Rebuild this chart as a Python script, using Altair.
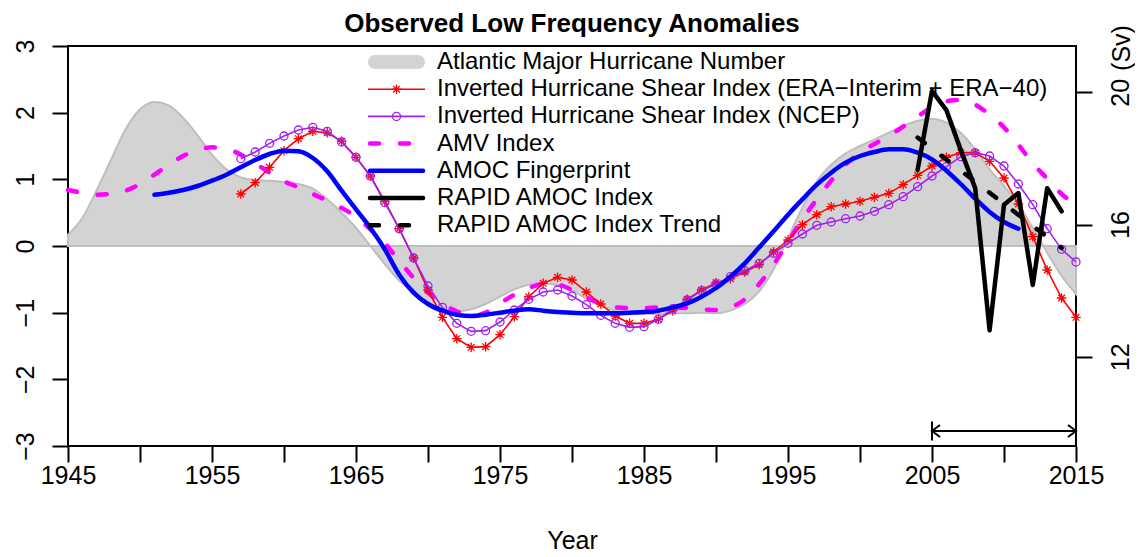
import altair as alt
import pandas as pd

# ---------------- data ----------------
hurr_years = list(range(1945, 2016))
hurr_vals = [0.17, 0.42, 0.84, 1.30, 1.75, 2.05, 2.16, 2.11, 1.92, 1.66, 1.37, 1.15, 1.03, 0.99, 0.98, 0.96, 0.93,
             0.86, 0.70, 0.50, 0.27, 0.00, -0.27, -0.52, -0.68, -0.85, -0.95, -0.98, -0.95, -0.87, -0.76, -0.65,
             -0.58, -0.56, -0.59, -0.67, -0.79, -0.90, -0.97, -1.01, -1.02, -1.02, -1.01, -1.01, -1.00, -1.01,
             -0.97, -0.87, -0.68, -0.35, 0.12, 0.58, 0.97, 1.22, 1.39, 1.50, 1.60, 1.70, 1.80, 1.88, 1.91, 1.85,
             1.70, 1.45, 1.15, 0.90, 0.62, 0.27, -0.10, -0.45, -0.72]

amv_years = list(range(1945, 2016))
amv_vals = [0.84, 0.80, 0.77, 0.78, 0.83, 0.93, 1.07, 1.22, 1.35, 1.44, 1.48, 1.46, 1.37, 1.24, 1.10, 0.97, 0.88,
            0.78, 0.68, 0.57, 0.44, 0.25, 0.04, -0.22, -0.48, -0.70, -0.87, -0.98, -1.05, -1.00, -0.86, -0.73,
            -0.63, -0.57, -0.58, -0.66, -0.77, -0.86, -0.92, -0.93, -0.93, -0.92, -0.92, -0.93, -0.95, -0.96,
            -0.92, -0.80, -0.57, -0.28, 0.06, 0.40, 0.70, 0.98, 1.22, 1.40, 1.53, 1.65, 1.79, 1.94, 2.08, 2.17,
            2.19, 2.12, 1.97, 1.78, 1.52, 1.24, 1.01, 0.78, 0.62]

era_years = list(range(1957, 2016))
era_vals = [0.78, 0.95, 1.18, 1.43, 1.61, 1.72, 1.70, 1.57, 1.33, 1.05, 0.67, 0.26, -0.18, -0.66, -1.07, -1.39,
            -1.52, -1.51, -1.33, -1.06, -0.76, -0.56, -0.47, -0.51, -0.69, -0.87, -1.05, -1.16, -1.16, -1.10,
            -0.97, -0.80, -0.66, -0.55, -0.49, -0.39, -0.28, -0.09, 0.09, 0.32, 0.47, 0.59, 0.63, 0.67, 0.73,
            0.79, 0.92, 1.06, 1.20, 1.33, 1.40, 1.40, 1.27, 1.02, 0.63, 0.14, -0.36, -0.78, -1.07]

ncep_years = list(range(1957, 2016))
ncep_vals = [1.31, 1.41, 1.54, 1.65, 1.74, 1.78, 1.72, 1.56, 1.33, 1.05, 0.65, 0.26, -0.18, -0.60, -0.92, -1.16,
             -1.28, -1.27, -1.14, -0.96, -0.80, -0.69, -0.66, -0.75, -0.88, -1.04, -1.16, -1.22, -1.21, -1.10,
             -0.94, -0.81, -0.67, -0.57, -0.46, -0.37, -0.26, -0.11, 0.04, 0.18, 0.31, 0.36, 0.41, 0.45, 0.52,
             0.62, 0.74, 0.89, 1.05, 1.19, 1.34, 1.40, 1.35, 1.20, 0.93, 0.62, 0.26, -0.05, -0.24]

amoc_years = list(range(1951, 2012))
amoc_vals = [0.77, 0.80, 0.84, 0.90, 0.98, 1.07, 1.18, 1.29, 1.38, 1.43, 1.42, 1.32, 1.12, 0.83, 0.55, 0.27,
             -0.05, -0.43, -0.70, -0.87, -0.97, -1.03, -1.05, -1.03, -1.00, -0.97, -0.95, -0.97, -0.99, -1.00,
             -1.01, -1.01, -1.01, -1.00, -0.99, -0.97, -0.92, -0.86, -0.76, -0.63, -0.46, -0.26, -0.02, 0.22,
             0.47, 0.70, 0.92, 1.10, 1.25, 1.35, 1.41, 1.45, 1.45, 1.40, 1.30, 1.13, 0.93, 0.71, 0.51, 0.36, 0.26]

rapid_years = list(range(2004, 2015))
rapid_sv = [17.65, 20.04, 19.46, 18.25, 17.10, 12.80, 16.60, 16.95, 14.17, 17.10, 16.40]

trend_years = [2004, 2014]
trend_sv = [18.63, 15.29]

span_years = [2005, 2015]

legend_labels = [
    "Atlantic Major Hurricane Number",
    "Inverted Hurricane Shear Index (ERA\u2212Interim + ERA\u221240)",
    "Inverted Hurricane Shear Index (NCEP)",
    "AMV Index",
    "AMOC Fingerprint",
    "RAPID AMOC Index",
    "RAPID AMOC Index Trend",
]

title_text = "Observed Low Frequency Anomalies"
x_title = "Year"
sv_unit = "(Sv)"
x_ticks = list(range(1945, 2016, 5))
y_ticks = [-3, -2, -1, 0, 1, 2, 3]
sv_ticks = [12, 16, 20]

# ---------------- layout ----------------
W, H = 1008, 400
PAD_L, PAD_T = 60, 38
SVG_W, SVG_H = 1127, 549
X0, Y0 = PAD_L + 8, PAD_T + 8
FONT = "Liberation Sans"


def x_of(px):
    return 1945 + (px - X0) / (W / 70)


def v_of(py):
    return 3 - (py - Y0) / (H / 6)


xs = alt.Scale(domain=[1945, 2015], nice=False, zero=False)
ys = alt.Scale(domain=[-3, 3], nice=False, zero=False)
svs = alt.Scale(domain=[9.30, 21.40], nice=False, zero=False)

xaxis = alt.Axis(values=x_ticks, format="d", title=x_title,
                 labelExpr="(datum.value - 1945) % 10 == 0 ? datum.label : ''",
                 labelFlush=False, labelOverlap=False, labelPadding=1, titlePadding=40)
yaxis = alt.Axis(values=y_ticks, format="d", title=None, labelAngle=270, labelFlush=False,
                 labelOverlap=False, labelAlign="center", labelBaseline="bottom", labelPadding=14)
svaxis = alt.Axis(values=sv_ticks, format="d", title=None, orient="right", labelAngle=270,
                  labelFlush=False, labelOverlap=False,
                  labelAlign="center", labelBaseline="top", labelPadding=16)


def X(f):
    return alt.X(f, type="quantitative", scale=xs, axis=xaxis)


def Y(f):
    return alt.Y(f, type="quantitative", scale=ys, axis=yaxis)


def YS(f):
    return alt.Y(f, type="quantitative", scale=svs, axis=svaxis)


hurr = pd.DataFrame({"year": hurr_years, "value": hurr_vals, "base": 0.0})
amv = pd.DataFrame({"year": amv_years, "value": amv_vals})
era = pd.DataFrame({"year": era_years, "value": era_vals})
ncep = pd.DataFrame({"year": ncep_years, "value": ncep_vals})
amoc = pd.DataFrame({"year": amoc_years, "value": amoc_vals})
rapid = pd.DataFrame({"year": rapid_years, "value": rapid_sv})
trend = pd.DataFrame({"year": trend_years, "value": trend_sv})

STAR = "M-1,0L1,0M0,-1L0,1M-0.7,-0.7L0.7,0.7M-0.7,0.7L0.7,-0.7"
DASH = [9, 21]

area = alt.Chart(hurr).mark_area(fill="#d3d3d3", stroke="#bebebe", strokeWidth=2,
                                 interpolate="monotone").encode(x=X("year"), y=Y("value"), y2="base")
amv_line = alt.Chart(amv).mark_line(color="#ff00ff", strokeWidth=4.5, strokeDash=DASH, strokeCap="round",
                                    interpolate="monotone").encode(x=X("year"), y=Y("value"))
era_line = alt.Chart(era).mark_line(color="#ff0000", strokeWidth=1.6).encode(x=X("year"), y=Y("value"))
era_pts = alt.Chart(era).mark_point(shape=STAR, size=90, color="#ff0000", filled=False, strokeWidth=1.3,
                                    opacity=1).encode(x=X("year"), y=Y("value"))
ncep_line = alt.Chart(ncep).mark_line(color="#a020f0", strokeWidth=1.6).encode(x=X("year"), y=Y("value"))
ncep_pts = alt.Chart(ncep).mark_point(shape="circle", size=64, color="#a020f0", filled=False, strokeWidth=1.3,
                                      opacity=1).encode(x=X("year"), y=Y("value"))
amoc_line = alt.Chart(amoc).mark_line(color="#0000ff", strokeWidth=4.5, strokeCap="round",
                                      interpolate="monotone").encode(x=X("year"), y=Y("value"))

# arrow marking the RAPID period
arrow_y = v_of(431)
span = pd.DataFrame({"year": [span_years[0]], "year2": [span_years[1]], "value": [arrow_y]})
arrow_line = alt.Chart(span).mark_rule(color="black", strokeWidth=2).encode(
    x=X("year"), x2="year2", y=Y("value"))
bar = pd.DataFrame({"year": [span_years[0]], "value": [v_of(421.5)], "value2": [v_of(440.5)]})
arrow_bar = alt.Chart(bar).mark_rule(color="black", strokeWidth=2).encode(x=X("year"), y=Y("value"), y2="value2")
heads = pd.DataFrame({"year": span_years, "value": [arrow_y, arrow_y],
                      "shape": ["M1,-0.75L0,0L1,0.75", "M-1,-0.75L0,0L-1,0.75"]})
arrow_heads = alt.Chart(heads).mark_point(size=256, color="black", filled=False, strokeWidth=2,
                                          opacity=1).encode(
    x=X("year"), y=Y("value"), shape=alt.Shape("shape:N", scale=None))

# legend
ROW_Y = [62 + 27.2 * i for i in range(7)]
SYM_L, SYM_R, SYM_C, TXT_X = 368, 425, 396.5, 437


def hrule(px0, px1, row, **kw):
    df = pd.DataFrame({"year": [x_of(px0)], "year2": [x_of(px1)], "value": [v_of(ROW_Y[row])]})
    return alt.Chart(df).mark_rule(**kw).encode(x=X("year"), x2="year2", y=Y("value"))


def sym(row, **kw):
    df = pd.DataFrame({"year": [x_of(SYM_C)], "value": [v_of(ROW_Y[row])]})
    return alt.Chart(df).mark_point(opacity=1, filled=False, **kw).encode(x=X("year"), y=Y("value"))


leg_df = pd.DataFrame({"label": legend_labels, "year": x_of(TXT_X), "value": [v_of(p) for p in ROW_Y]})
leg_text = alt.Chart(leg_df).mark_text(align="left", baseline="middle", font=FONT, fontSize=24,
                                       color="black").encode(x=X("year"), y=Y("value"), text="label:N")
legend = [
    hrule(SYM_L + 7, SYM_R - 7, 0, color="#d3d3d3", strokeWidth=14, strokeCap="round"),
    hrule(SYM_L, SYM_R, 1, color="#ff0000", strokeWidth=1.6),
    sym(1, shape=STAR, size=90, color="#ff0000", strokeWidth=1.3),
    hrule(SYM_L, SYM_R, 2, color="#a020f0", strokeWidth=1.6),
    sym(2, shape="circle", size=64, color="#a020f0", strokeWidth=1.3),
    hrule(SYM_L + 2, SYM_R, 3, color="#ff00ff", strokeWidth=4.5, strokeDash=DASH, strokeCap="round"),
    hrule(SYM_L + 2, SYM_R - 2, 4, color="#0000ff", strokeWidth=4.5, strokeCap="round"),
    hrule(SYM_L + 2, SYM_R - 2, 5, color="black", strokeWidth=4.5, strokeCap="round"),
    hrule(SYM_L + 2, SYM_R, 6, color="black", strokeWidth=4.5, strokeDash=DASH, strokeCap="round"),
    leg_text,
]

title_df = pd.DataFrame({"label": [title_text]})
title_mark = alt.Chart(title_df).mark_text(font=FONT, fontSize=26, fontWeight="bold", color="black",
                                           align="center", baseline="middle").encode(
    x=alt.value(W / 2), y=alt.value(23.5 - Y0), text="label:N")

left = alt.layer(area, amv_line, era_line, era_pts, ncep_line, ncep_pts, amoc_line,
                 arrow_line, arrow_bar, arrow_heads, *legend, title_mark)

rapid_line = alt.Chart(rapid).mark_line(color="black", strokeWidth=4.5, strokeJoin="round",
                                        strokeCap="round").encode(x=X("year"), y=YS("value"))
trend_line = alt.Chart(trend).mark_line(color="black", strokeWidth=4.5, strokeDash=DASH,
                                        strokeCap="round").encode(x=X("year"), y=YS("value"))
unit_df = pd.DataFrame({"label": [sv_unit]})
unit_mark = alt.Chart(unit_df).mark_text(font=FONT, fontSize=25, color="black", angle=270,
                                         align="center", baseline="middle").encode(
    x=alt.value(W + 46), y=alt.value(48 - Y0), text="label:N")

right = alt.layer(rapid_line, trend_line, unit_mark)

chart = alt.layer(left, right).resolve_scale(y="independent").properties(
    width=W, height=H,
    padding={"left": PAD_L, "top": PAD_T, "right": SVG_W - PAD_L - W, "bottom": SVG_H - PAD_T - H},
    autosize=alt.AutoSizeParams(type="none"),
).configure_view(stroke="black", strokeWidth=2).configure_axis(
    grid=False, domain=False, tickColor="black", tickWidth=2, tickSize=16,
    labelFont=FONT, labelFontSize=25, labelColor="black",
    titleFont=FONT, titleFontSize=25, titleFontWeight="normal", titleColor="black",
)

chart.save("out.html", embed_options={"renderer": "svg", "actions": False})
